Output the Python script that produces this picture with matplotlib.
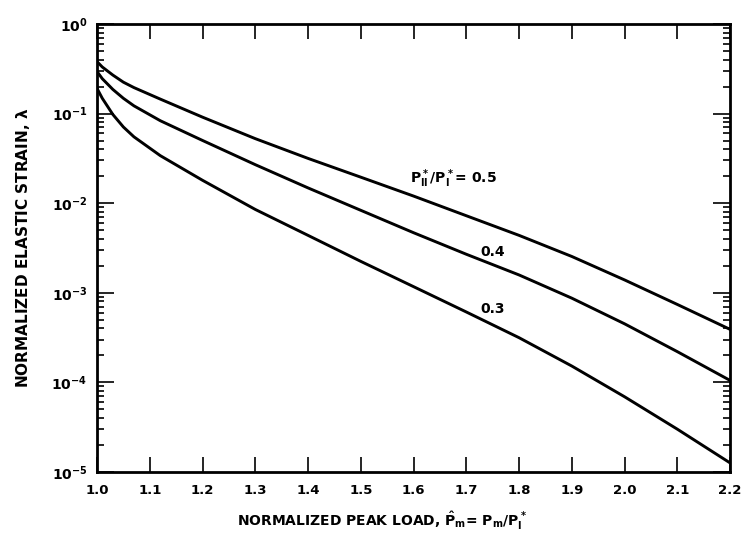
import numpy as np
import matplotlib.pyplot as plt
from matplotlib.ticker import LogLocator, FixedLocator

# peak load ratio (x) and elastic strain lambda
load = [1.0, 1.01, 1.03, 1.05, 1.07, 1.12, 1.2, 1.3, 1.4, 1.5, 1.6, 1.7, 1.8, 1.9,
        2.0, 2.1, 2.2]

strain_05 = [0.380, 0.331, 0.269, 0.224, 0.195, 0.145, 0.0912, 0.0525, 0.0316, 0.0195,
             0.0120, 0.00724, 0.00437, 0.00254, 0.00139, 7.4e-4, 3.9e-4]
strain_04 = [0.295, 0.245, 0.186, 0.148, 0.122, 0.0832, 0.0501, 0.0269, 0.0148, 0.00832,
             0.00468, 0.00269, 0.00158, 8.7e-4, 4.5e-4, 2.2e-4, 1.05e-4]
strain_03 = [0.191, 0.148, 0.0977, 0.0708, 0.0550, 0.0339, 0.0180, 0.00851, 0.00437,
             0.00224, 0.00117, 6.1e-4, 3.15e-4, 1.52e-4, 6.9e-5, 3.0e-5, 1.26e-5]

x_ticks = [1.0, 1.1, 1.2, 1.3, 1.4, 1.5, 1.6, 1.7, 1.8, 1.9, 2.0, 2.1, 2.2]
x_ticklabels = ["1.0", "1.1", "1.2", "1.3", "1.4", "1.5", "1.6", "1.7", "1.8", "1.9",
                "2.0", "2.1", "2.2"]


def main() -> None:
    plt.rcParams["font.family"] = ["DejaVu Sans"]
    plt.rcParams["font.weight"] = "bold"
    plt.rcParams["axes.labelweight"] = "bold"
    plt.rcParams["mathtext.default"] = "bf"

    fig = plt.figure(figsize=(7.44, 5.45), dpi=100)
    ax = fig.add_axes([0.1304, 0.134, 0.851, 0.822])

    for s in (strain_05, strain_04, strain_03):
        ax.plot(load, s, color="black", lw=2.1, solid_joinstyle="round",
                solid_capstyle="round")

    ax.set_yscale("log")
    ax.set_xlim(1.0, 2.2)
    ax.set_ylim(1e-5, 1.0)

    ax.xaxis.set_major_locator(FixedLocator(x_ticks))
    ax.set_xticklabels(x_ticklabels)
    ax.yaxis.set_major_locator(LogLocator(base=10, numticks=10))
    ax.yaxis.set_minor_locator(LogLocator(base=10, subs=np.arange(2, 10), numticks=10))

    ax.tick_params(axis="x", which="major", direction="in", top=True, bottom=True,
                   length=11, width=1.2, pad=9, labelsize=9.5)
    ax.tick_params(axis="y", which="major", direction="in", left=True, right=True,
                   length=12, width=1.2, pad=7, labelsize=10)
    ax.tick_params(axis="y", which="minor", direction="in", left=True, right=True,
                   length=5, width=1.2)
    for sp in ax.spines.values():
        sp.set_linewidth(2.0)

    ax.text(1.675, 10 ** -1.73, r"$P^*_{II}/P^*_{I}$= 0.5", fontsize=10,
            ha="center", va="center")
    ax.text(1.75, 10 ** -2.54, "0.4", fontsize=10, ha="center", va="center")
    ax.text(1.75, 10 ** -3.18, "0.3", fontsize=10, ha="center", va="center")

    ax.set_xlabel(r"NORMALIZED PEAK LOAD, $\hat{P}_m$= $P_m$/$P^*_I$", fontsize=10)
    ax.xaxis.set_label_coords(0.45, -0.085)
    ax.set_ylabel(r"NORMALIZED ELASTIC STRAIN, $\lambda$", fontsize=11)
    ax.yaxis.set_label_coords(-0.103, 0.5)

    fig.savefig("out.png", dpi=100)


if __name__ == "__main__":
    main()
